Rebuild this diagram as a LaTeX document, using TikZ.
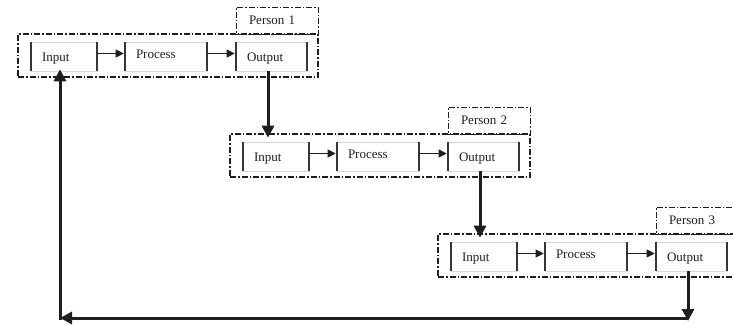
\documentclass[tikz,border=0pt]{standalone}
\usepackage{fontspec}
\setmainfont{Liberation Serif}
\usetikzlibrary{arrows.meta,calc}
\definecolor{ink}{HTML}{1E1E1E}
\definecolor{boxedge}{HTML}{D8D8D8}
\begin{document}
\begin{tikzpicture}[x=1pt,y=-1pt,
  font=\fontsize{13}{15}\selectfont,
  dashdot/.style={dash pattern=on 6pt off 2pt on 1.5pt off 2pt},
  outerbox/.style={draw=ink, line width=1.2pt, dashdot, minimum width=300pt, minimum height=43pt, inner sep=0pt},
  personbox/.style={draw=ink, line width=0.9pt, dashdot, minimum width=82pt, minimum height=27pt, inner xsep=13pt, inner ysep=0pt, text width=56pt, align=left, text height=9pt, text depth=2pt, text=ink},
  stage/.style={draw=boxedge, line width=0.6pt, minimum height=29pt, inner ysep=0pt, inner xsep=11pt, align=left, text height=11pt, text depth=2pt, text=ink},
  bar/.style={draw=ink!90, line width=2pt},
  flow/.style={draw=ink, line width=1pt, -{Triangle[length=8pt,width=8pt]}},
  bigflow/.style={draw=ink, line width=3pt, -{Triangle[length=12pt,width=12pt]}}
]
\useasboundingbox (0,0) rectangle (733,324);
\foreach \i/\dx/\dy in {1/0/0, 2/212/100, 3/420/200}{
  \begin{scope}[shift={(\dx,\dy)}]
    \node[outerbox] (g\i) at (168,55.5) {};
    \node[personbox] (p\i) at (277,20.5) {Person \i};
    \node[stage, text width=44pt] (in\i) at (64,56.5) {Input};
    \node[stage, text width=60pt] (pr\i) at (166,56.5) {\raisebox{3pt}{Process}};
    \node[stage, text width=49pt] (out\i) at (271.5,56.5) {Output};
  \end{scope}
  \foreach \s in {in,pr,out}{
    \draw[bar] (\s\i.north west) -- (\s\i.south west);
    \draw[bar] (\s\i.north east) -- (\s\i.south east);
  }
  \draw[flow] ($(in\i.east)+(0,-3)$) -- ($(pr\i.west)+(-1,-3)$);
  \draw[flow] ($(pr\i.east)+(0,-3)$) -- ($(out\i.west)+(-1,-3)$);
}
\draw[bigflow] ($(out1.south)+(-3.5,0)$) -- ($(out1.south |- in2.north)+(-3.5,-4)$);
\draw[bigflow] ($(out2.south)+(-3.5,0)$) -- ($(out2.south |- in3.north)+(-3.5,-4)$);
\coordinate (br) at ($(out3.south |- 0,318)+(-3.5,0)$);
\coordinate (corner) at ($(in1.south |- 0,318)+(-4,0)$);
\draw[bigflow] ($(out3.south)+(-3.5,0)$) -- ($(br)+(0,3)$);
\draw[bigflow] (br) -- (corner);
\draw[bigflow] ($(corner)+(0,1.5)$) -- ($(in1.south)+(-4,-2)$);
\end{tikzpicture}
\end{document}
